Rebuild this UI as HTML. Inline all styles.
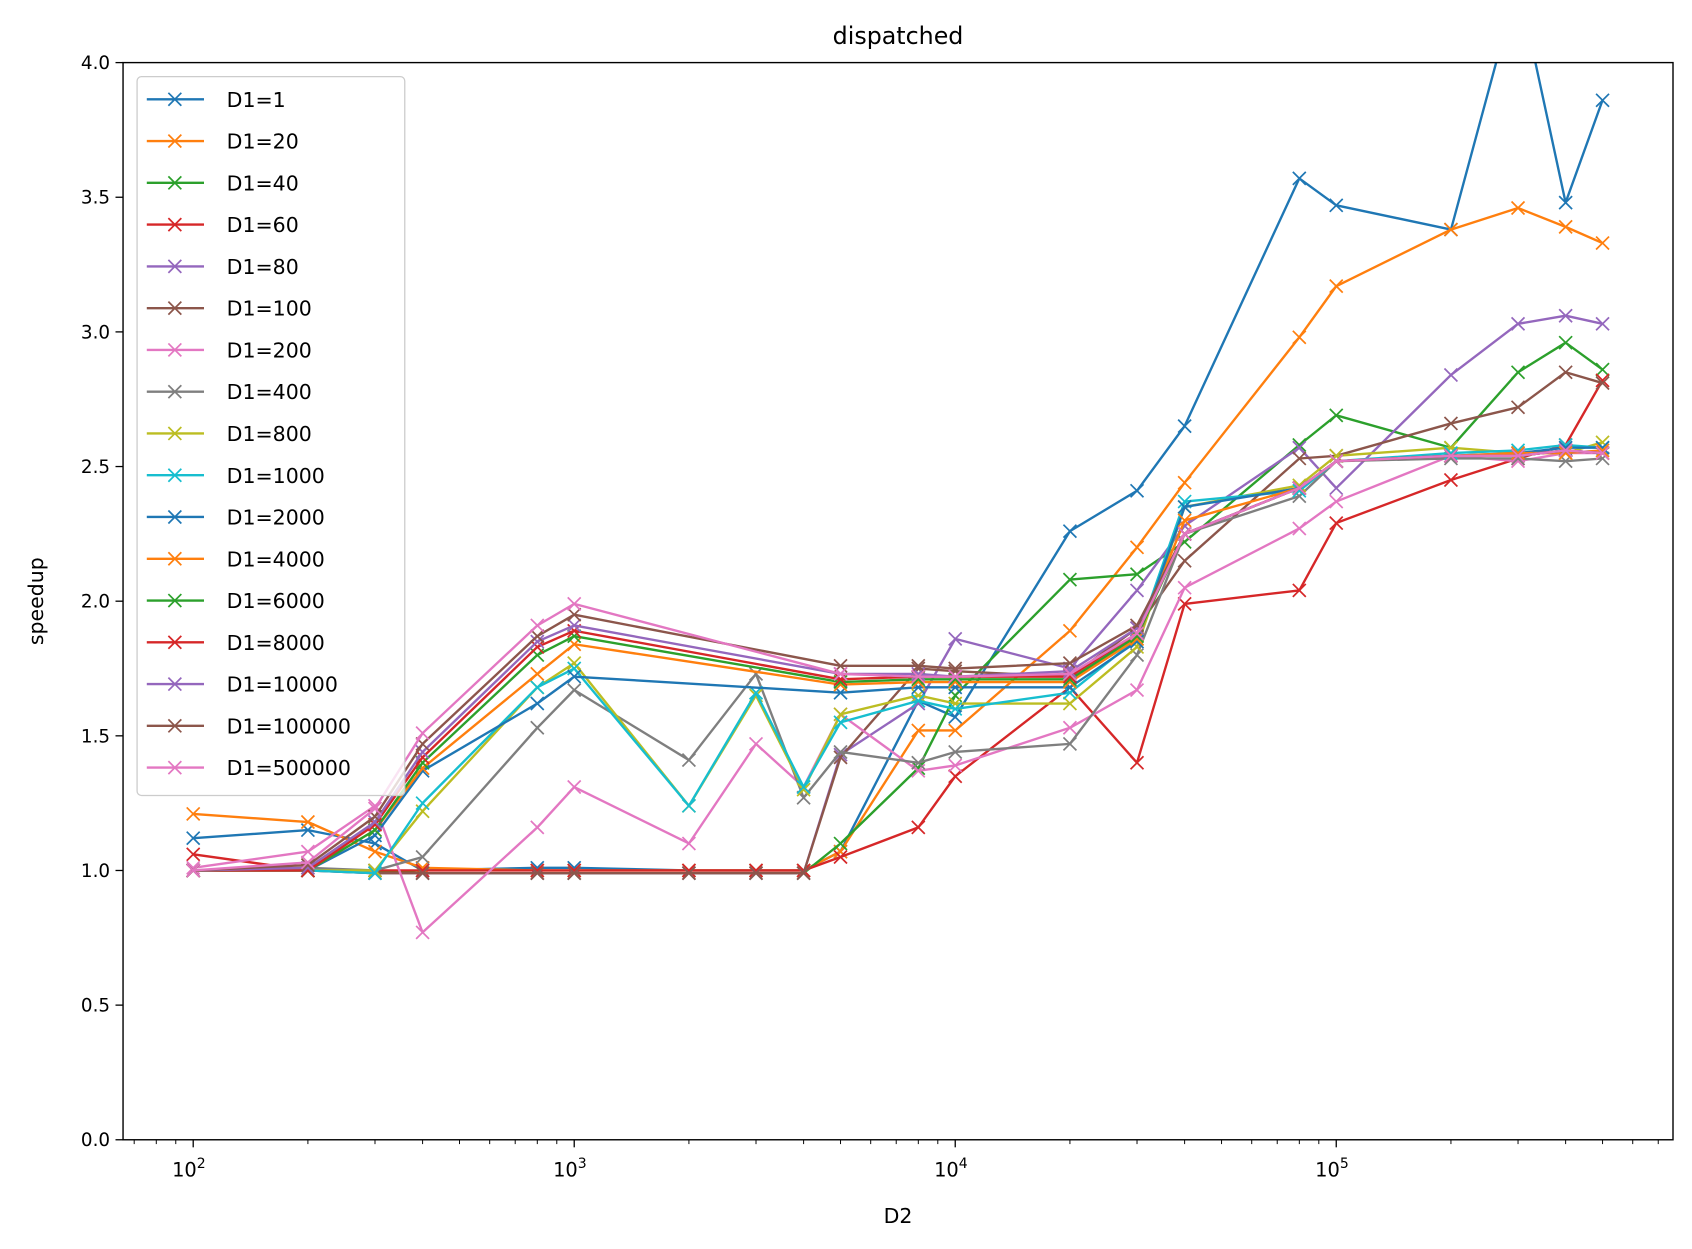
<!DOCTYPE html>
<html><head><meta charset="utf-8"><style>
body{margin:0;background:#fff}
svg text{font-family:"DejaVu Sans","Liberation Sans",sans-serif;fill:#000}
</style></head><body>
<svg id="chart" width="1692" height="1249" viewBox="0 0 1567.6 1157.2" preserveAspectRatio="none" xmlns="http://www.w3.org/2000/svg" style="display:block">
<defs><clipPath id="plotclip"><rect x="114" y="58" width="1436" height="998"/></clipPath></defs>
<rect x="0" y="0" width="1567.6" height="1157.2" fill="#fff"/>
<text x="832" y="41" font-size="22" text-anchor="middle">dispatched</text>
<g id="axes"></g>
<g id="series" clip-path="url(#plotclip)"></g>
<rect x="114" y="58" width="1436" height="998" fill="none" stroke="#000" stroke-width="1.3"/>
<g id="legend"></g>
<text x="832" y="1133" font-size="19" text-anchor="middle">D2</text>
<text transform="translate(40,557) rotate(-90)" font-size="19" text-anchor="middle">speedup</text>
</svg>
<script>
const xValues=[100,200,300,400,800,1000,2000,3000,4000,5000,8000,10000,20000,30000,40000,80000,100000,200000,300000,400000,500000];
const labels=["D1=1","D1=20","D1=40","D1=60","D1=80","D1=100","D1=200","D1=400","D1=800","D1=1000","D1=2000","D1=4000","D1=6000","D1=8000","D1=10000","D1=100000","D1=500000"];
const colors=["#1f77b4","#ff7f0e","#2ca02c","#d62728","#9467bd","#8c564b","#e377c2","#7f7f7f","#bcbd22","#17becf","#1f77b4","#ff7f0e","#2ca02c","#d62728","#9467bd","#8c564b","#e377c2"];
const N=null;
const s1=[1.12,1.15,1.1,1.0,1.01,1.01,1.0,1.0,1.0,1.07,1.63,1.57,2.26,2.41,2.65,3.57,3.47,3.38,4.3,3.48,3.86];
const s20=[1.21,1.18,1.07,1.01,1.0,1.0,1.0,1.0,1.0,1.07,1.52,1.52,1.89,2.2,2.44,2.98,3.17,3.38,3.46,3.39,3.33];
const s40=[1.0,1.0,1.0,0.99,0.99,0.99,0.99,0.99,0.99,1.1,1.38,1.65,2.08,2.1,2.22,2.58,2.69,2.57,2.85,2.96,2.86];
const s60=[1.06,1.0,1.0,1.0,1.0,1.0,1.0,1.0,1.0,1.05,1.16,1.35,1.68,1.4,1.99,2.04,2.29,2.45,2.53,2.58,2.82];
const s80=[1.0,1.0,0.99,0.99,0.99,0.99,0.99,0.99,0.99,1.43,1.62,1.86,1.75,2.04,2.28,2.57,2.42,2.84,3.03,3.06,3.03];
const s100=[1.0,1.0,0.99,0.99,0.99,0.99,0.99,0.99,0.99,1.42,1.75,1.74,1.72,1.9,2.15,2.53,2.54,2.66,2.72,2.85,2.81];
const s200=[1.01,1.07,1.24,0.77,1.16,1.31,1.1,1.47,1.31,1.58,1.37,1.39,1.53,1.67,2.05,2.27,2.37,2.54,2.52,2.55,2.55];
const s400=[1.0,1.01,1.0,1.05,1.53,1.67,1.41,1.73,1.27,1.44,1.4,1.44,1.47,1.8,2.25,2.39,2.52,2.53,2.53,2.52,2.53];
const s800=[1.0,1.0,1.0,1.22,1.68,1.77,1.24,1.65,1.3,1.58,1.65,1.62,1.62,1.83,2.35,2.43,2.54,2.57,2.55,2.55,2.59];
const s1000=[1.0,1.0,0.99,1.25,1.68,1.75,1.24,1.66,1.31,1.55,1.63,1.6,1.66,1.86,2.37,2.41,2.52,2.55,2.56,2.58,2.57];
const s2000=[1.0,1.0,1.13,1.37,1.62,1.72,N,N,N,1.66,1.68,1.68,1.68,1.85,2.35,2.42,2.52,2.54,2.55,2.57,2.57];
const s4000=[1.0,1.0,1.15,1.38,1.73,1.84,N,N,N,1.69,1.7,1.7,1.7,1.86,2.3,2.42,2.52,2.54,2.55,2.55,2.56];
const s6000=[1.0,1.0,1.15,1.4,1.8,1.87,N,N,N,1.7,1.71,1.71,1.71,1.87,2.25,2.42,2.52,2.54,2.54,2.56,2.55];
const s8000=[1.0,1.0,1.17,1.42,1.83,1.89,N,N,N,1.71,1.72,1.72,1.72,1.88,2.25,2.42,2.52,2.54,2.54,2.56,2.55];
const s10000=[1.0,1.01,1.18,1.44,1.85,1.91,N,N,N,1.73,1.73,1.72,1.74,1.9,2.25,2.42,2.52,2.54,2.54,2.56,2.55];
const s100000=[1.0,1.02,1.2,1.47,1.87,1.95,N,N,N,1.76,1.76,1.75,1.77,1.91,2.25,2.42,2.52,2.54,2.54,2.56,2.55];
const s500000=[1.0,1.03,1.23,1.51,1.91,1.99,N,N,N,1.73,1.72,1.72,1.73,1.88,2.25,2.42,2.52,2.54,2.54,2.56,2.55];
const seriesValues=[s1,s20,s40,s60,s80,s100,s200,s400,s800,s1000,s2000,s4000,s6000,s8000,s10000,s100000,s500000];
const yTicks=[0,0.5,1.0,1.5,2.0,2.5,3.0,3.5,4.0];
const xTickExps=[2,3,4,5];

const NS="http://www.w3.org/2000/svg";
function X(v){return 179+353*(Math.log10(v)-2);}
function Y(v){return 1056-249.5*v;}
function mk(tag,attrs,parent){const e=document.createElementNS(NS,tag);for(const k in attrs)e.setAttribute(k,attrs[k]);parent.appendChild(e);return e;}
const axes=document.getElementById('axes');
yTicks.forEach(t=>{
  const l=mk('line',{x1:107,x2:114,y1:Y(t),y2:Y(t),stroke:'#000','stroke-width':1.2},axes);
  
  
  const tx=mk('text',{x:102,y:Y(t)+6,'font-size':17,'text-anchor':'end'},axes);
  tx.textContent=t.toFixed(1);
  
  
});
for(let e=1;e<=5;e++){for(let m=2;m<=9;m++){const v=m*Math.pow(10,e);const x=X(v);if(x<114||x>1550)continue;
  const l=mk('line',{x1:x,x2:x,y1:1056,y2:1060,stroke:'#000','stroke-width':0.9},axes);
  
  }}
xTickExps.forEach(e=>{const x=X(Math.pow(10,e));
  const l=mk('line',{x1:x,x2:x,y1:1056,y2:1063,stroke:'#000','stroke-width':1.2},axes);
  
  
  const tx=mk('text',{x:x-4,y:1090,'font-size':18,'text-anchor':'middle'},axes);
  tx.innerHTML='10<tspan dy="-8" font-size="13">'+e+'</tspan>';
  
  
});
const sg=document.getElementById('series');
function xmark(g,cx,cy,c){
  const p=mk('path',{d:`M${cx-6},${cy-6}L${cx+6},${cy+6}M${cx-6},${cy+6}L${cx+6},${cy-6}`,stroke:c,'stroke-width':1.6,fill:'none'},g);
  
  
}
seriesValues.forEach((vals,i)=>{
  const g=mk('g',{},sg);
  
  
  let d='';
  vals.forEach((v,j)=>{if(v===null)return;d+=(d?'L':'M')+X(xValues[j]).toFixed(1)+','+Y(v).toFixed(1);});
  const p=mk('path',{d:d,stroke:colors[i],'stroke-width':2.2,fill:'none','stroke-linejoin':'round'},g);
  
  
  vals.forEach((v,j)=>{if(v!==null)xmark(g,X(xValues[j]),Y(v),colors[i]);});
});
const lg=document.getElementById('legend');
const box=mk('rect',{x:127,y:71,width:248,height:666,rx:4,fill:'#fff','fill-opacity':0.8,stroke:'#ccc','stroke-width':1.2},lg);


labels.forEach((lab,i)=>{
  const y=92+i*38.7;
  const g=mk('g',{},lg);
  
  
  mk('line',{x1:136,x2:189,y1:y,y2:y,stroke:colors[i],'stroke-width':2.2},g);
  xmark(g,162,y,colors[i]);
  const t=mk('text',{x:210,y:y+7,'font-size':19},g);
  t.textContent=lab;
});
</script>
</body></html>
